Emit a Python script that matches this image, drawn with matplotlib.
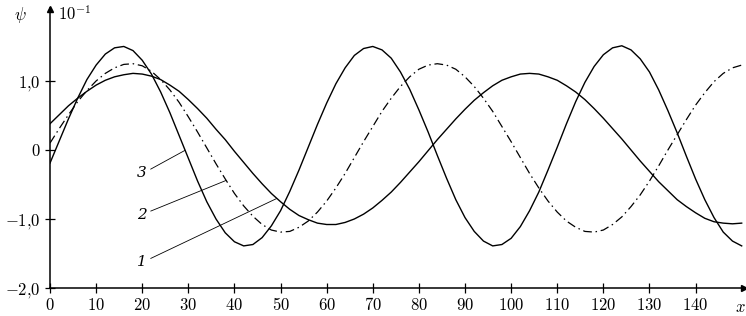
import numpy as np
import matplotlib
matplotlib.use("Agg")
import matplotlib.pyplot as plt

plt.rcParams["mathtext.fontset"] = "cm"
plt.rcParams["font.family"] = "serif"
plt.rcParams["font.serif"] = ["DejaVu Serif"]

# x grid (step 2) and curve values, in units of 10^-1
x = np.arange(0, 151, 2)

psi_1 = [0.38, 0.51, 0.64, 0.75, 0.85, 0.94, 1.01, 1.06, 1.09, 1.11,
         1.10, 1.07, 1.02, 0.94, 0.85, 0.73, 0.60, 0.46, 0.30, 0.15,
         -0.02, -0.18, -0.34, -0.49, -0.63, -0.75, -0.86, -0.95, -1.01, -1.06,
         -1.08, -1.08, -1.05, -1.00, -0.93, -0.84, -0.73, -0.61, -0.47, -0.32,
         -0.17, -0.01, 0.15, 0.30, 0.45, 0.59, 0.72, 0.83, 0.93, 1.01,
         1.06, 1.10, 1.11, 1.10, 1.06, 1.01, 0.93, 0.84, 0.73, 0.60,
         0.46, 0.31, 0.16, 0.00, -0.16, -0.31, -0.46, -0.59, -0.72, -0.82,
         -0.91, -0.99, -1.04, -1.06, -1.07, -1.06]

psi_2 = [0.10, 0.31, 0.51, 0.70, 0.86, 1.00, 1.11, 1.19, 1.24, 1.25,
         1.22, 1.14, 1.02, 0.87, 0.69, 0.48, 0.26, 0.03, -0.20, -0.42,
         -0.63, -0.81, -0.96, -1.08, -1.16, -1.19, -1.18, -1.12, -1.03, -0.90,
         -0.74, -0.55, -0.34, -0.11, 0.12, 0.34, 0.56, 0.75, 0.92, 1.06,
         1.17, 1.23, 1.25, 1.23, 1.17, 1.06, 0.92, 0.75, 0.56, 0.34,
         0.12, -0.11, -0.34, -0.55, -0.74, -0.90, -1.03, -1.12, -1.18, -1.19,
         -1.16, -1.08, -0.97, -0.82, -0.65, -0.45, -0.23, 0.00, 0.22, 0.44,
         0.65, 0.83, 0.99, 1.11, 1.19, 1.23]

psi_3 = [-0.19, 0.13, 0.45, 0.75, 1.02, 1.23, 1.39, 1.48, 1.50, 1.44,
         1.30, 1.10, 0.84, 0.54, 0.21, -0.12, -0.45, -0.75, -1.00, -1.20,
         -1.33, -1.39, -1.37, -1.27, -1.10, -0.88, -0.60, -0.29, 0.04, 0.37,
         0.68, 0.96, 1.19, 1.37, 1.47, 1.50, 1.45, 1.33, 1.13, 0.88,
         0.58, 0.26, -0.08, -0.41, -0.72, -0.98, -1.18, -1.32, -1.39, -1.37,
         -1.28, -1.11, -0.88, -0.61, -0.29, 0.04, 0.38, 0.70, 0.98, 1.21,
         1.38, 1.48, 1.51, 1.45, 1.32, 1.13, 0.87, 0.57, 0.25, -0.09,
         -0.42, -0.72, -0.98, -1.19, -1.32, -1.39]

x_ticks = list(range(0, 141, 10))
y_ticks = [-2.0, -1.0, 0.0, 1.0]
y_tick_labels = [r"$-2{,}0$", r"$-1{,}0$", r"$0$", r"$1{,}0$"]

# curve labels: text, curve, x where the leader touches the curve, label pos
labels = [("3", psi_3, 29.3, (19.9, -0.34)),
          ("2", psi_2, 38.2, (19.9, -0.94)),
          ("1", psi_1, 49.2, (19.9, -1.63))]


W, H = 746, 316
fig = plt.figure(figsize=(W / 100, H / 100), dpi=100)
ax = fig.add_axes([50 / W, 28 / H, 694 / W, 279.5 / H])

ax.plot(x, psi_1, color="black", lw=1.0)
ax.plot(x, psi_2, color="black", lw=0.9, ls=(0, (7, 3, 1.2, 3)))
ax.plot(x, psi_3, color="black", lw=1.0)

for txt, curve, xe, (tx, ty) in labels:
    ye = np.interp(xe, x, curve)
    ax.annotate(txt, xy=(xe, ye), xytext=(tx, ty),
                fontsize=11, style="italic", ha="center", va="center",
                arrowprops=dict(arrowstyle="-", lw=0.6, color="black",
                                relpos=(1.0, 0.65), shrinkA=1, shrinkB=0))

ax.set_xlim(0, 150.5)
ax.set_ylim(-2.0, 2.05)

for s in ["top", "right"]:
    ax.spines[s].set_visible(False)
for s in ["left", "bottom"]:
    ax.spines[s].set_linewidth(1.1)

# arrow heads on the axes
ax.plot(1, 0, ">k", ms=4, transform=ax.transAxes, clip_on=False)
ax.plot(0, 1, "^k", ms=4, transform=ax.transAxes, clip_on=False)

ax.set_xticks(x_ticks)
ax.set_xticklabels([r"$%d$" % t for t in x_ticks])
ax.set_yticks(y_ticks)
ax.set_yticklabels(y_tick_labels)
ax.tick_params(direction="inout", length=7, width=0.9, labelsize=12, pad=3)

fig.text(20 / W, 1 - 15 / H, r"$\psi$", fontsize=12, ha="center", va="center")
fig.text(58 / W, 1 - 15 / H, r"$10^{-1}$", fontsize=12, ha="left", va="center")
fig.text(740 / W, 1 - 308 / H, r"$x$", fontsize=12, ha="center", va="center")

fig.savefig("out.png", dpi=100)
